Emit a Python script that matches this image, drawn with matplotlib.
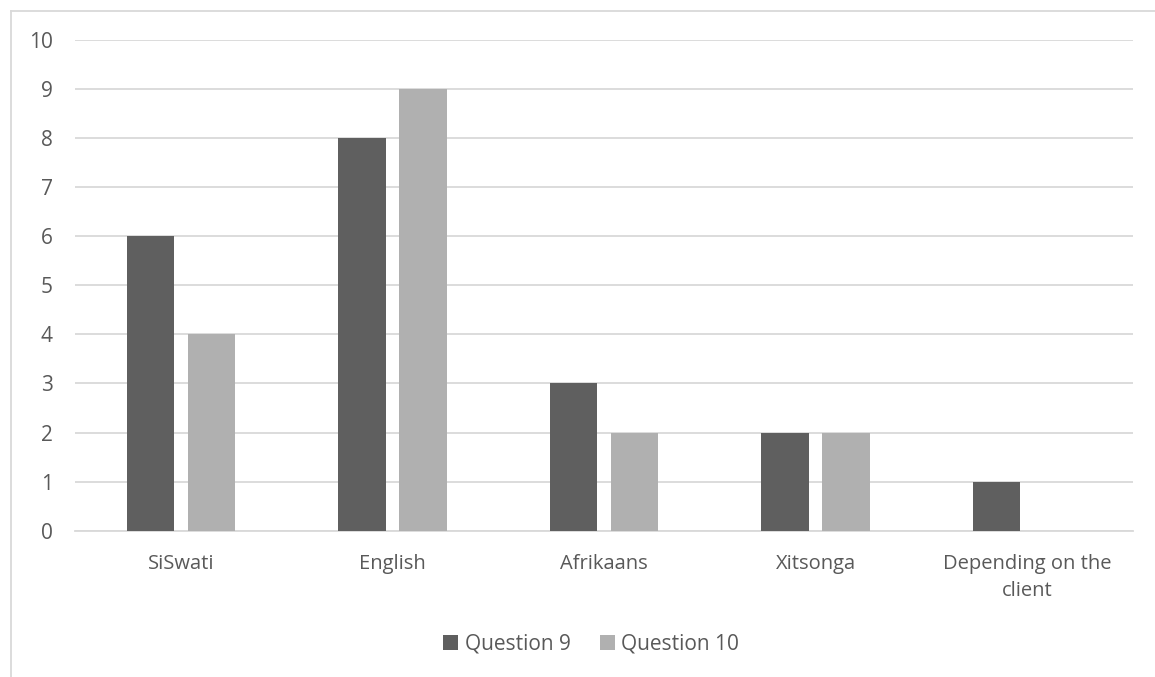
import matplotlib
matplotlib.use("Agg")
import matplotlib.pyplot as plt
from matplotlib.lines import Line2D
import numpy as np

categories = ["SiSwati", "English", "Afrikaans", "Xitsonga", "Depending on the\nclient"]
q9 = [6, 8, 3, 2, 1]
q10 = [4, 9, 2, 2, 0]
series_names = ["Question 9", "Question 10"]
colors = ["#5f5f5f", "#b0b0b0"]
yticks = list(range(0, 11))

plt.rcParams['font.family'] = ['Open Sans', 'DejaVu Sans']
text_color = "#595959"

W, H = 1155, 677
fig = plt.figure(figsize=(W / 100, H / 100), dpi=100)
ax = fig.add_axes([75 / W, 1 - 530.7 / H, 1058 / W, (530.7 - 40) / H])

x = np.arange(len(categories))
bw = 0.2245
off = 0.144
ax.bar(x - off, q9, width=bw, color=colors[0], label=series_names[0], zorder=3)
ax.bar(x + off, q10, width=bw, color=colors[1], label=series_names[1], zorder=3)

ax.set_xlim(-0.5, len(categories) - 0.5)
ax.set_ylim(0, 10)
ax.set_yticks(yticks)
ax.set_xticks(x)
ax.set_xticklabels(categories, linespacing=1.45, fontsize=14.5)
ax.yaxis.grid(True, color="#d9d9d9", linewidth=1.3, zorder=0)
ax.set_axisbelow(True)
for s in ["top", "right", "left"]:
    ax.spines[s].set_visible(False)
ax.spines["bottom"].set_color("#d9d9d9")
ax.spines["bottom"].set_linewidth(1.3)
ax.tick_params(axis="both", length=0, colors=text_color)
ax.tick_params(axis="y", pad=16, labelsize=15)
ax.tick_params(axis="x", pad=17)

# chart border (left and top visible)
fig.add_artist(Line2D([11 / W, 11 / W], [0, 1 - 11 / H], color="#d9d9d9", linewidth=1.3, transform=fig.transFigure))
fig.add_artist(Line2D([11 / W, 1], [1 - 11 / H, 1 - 11 / H], color="#d9d9d9", linewidth=1.3, transform=fig.transFigure))

leg = fig.legend(loc="center", bbox_to_anchor=(591 / W, 1 - 644 / H), ncol=2, frameon=False,
                 fontsize=15, handlelength=0.75, handleheight=0.75, handletextpad=0.3,
                 columnspacing=1.4, labelcolor=text_color)

fig.savefig("out.png", dpi=100, facecolor="white")
